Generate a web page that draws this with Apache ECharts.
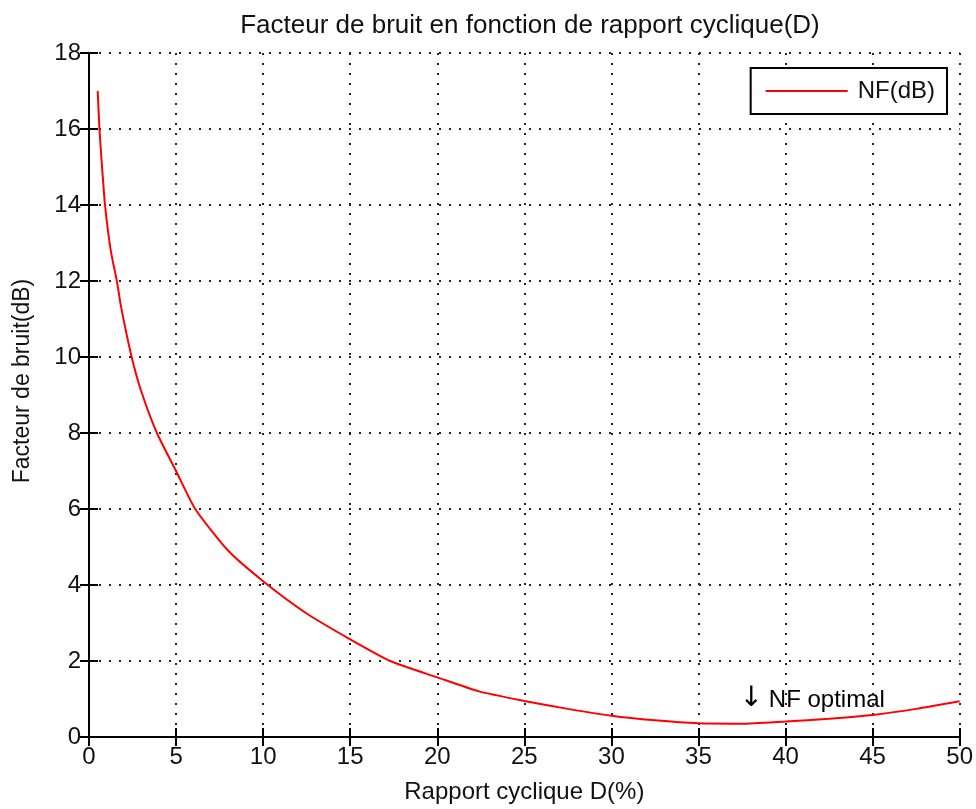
<!DOCTYPE html>
<html>
<head>
<meta charset="utf-8">
<script src="https://cdn.jsdelivr.net/npm/echarts@6/dist/echarts.min.js"></script>
<style>
  html, body { margin: 0; padding: 0; background: #fff; }
  #main { width: 976px; height: 809px; }
</style>
</head>
<body>
<div id="main"></div>
<script>
// rapport cyclique D(%) et facteur de bruit NF(dB)
var dutyCycle = [0.5, 0.6, 0.75, 0.92, 1.25, 1.6, 1.85, 2.45, 3.0, 3.9, 5, 6.1, 8, 10, 12.5, 15, 17.3, 20, 22.4, 25, 27.5, 30, 32.5, 35, 37.5, 40, 42.5, 45, 47.5, 50];
var noiseFigure = [17.0, 16.0, 15.0, 14.0, 12.8, 12.0, 11.3, 10.0, 9.1, 8.0, 7.0, 6.0, 4.9, 4.1, 3.25, 2.57, 2.0, 1.57, 1.2, 0.95, 0.74, 0.56, 0.44, 0.36, 0.35, 0.41, 0.48, 0.58, 0.74, 0.94];
// texte "NF optimal" (position en données)
var optimalLabelPos = [37.35, 0.97];

var FONT = 'Liberation Sans';
var chart = echarts.init(document.getElementById('main'));

var points = [];
for (var i = 0; i < dutyCycle.length; i++) {
	points.push([dutyCycle[i], noiseFigure[i]]);
}

var axisLine = { show: true, lineStyle: { color: '#000', width: 2 } };
var axisTick = { show: true, inside: true, length: 9, lineStyle: { color: '#000', width: 2 } };
var gridLine = { show: true, lineStyle: { color: '#222', width: 2, type: [2, 8] } };

var option = {
	backgroundColor: '#fff',
	animation: false,
	title: {
		text: 'Facteur de bruit en fonction de rapport cyclique(D)',
		left: 525,
		textAlign: 'center',
		top: 8,
		textStyle: { fontFamily: FONT, fontSize: 26, fontWeight: 'normal', color: '#111' }
	},
	legend: {
		data: ['NF(dB)'],
		right: 29,
		top: 68,
		orient: 'vertical',
		padding: [10, 12, 10, 15],
		icon: 'rect',
		itemWidth: 82,
		itemHeight: 2,
		borderColor: '#000',
		borderWidth: 2,
		borderRadius: 0,
		backgroundColor: '#fff',
		textStyle: { fontFamily: FONT, fontSize: 24, lineHeight: 26, color: '#111', padding: [0, 0, 0, 5] }
	},
	grid: { left: 89, right: 15, top: 53, bottom: 71, containLabel: false },
	xAxis: [{
		type: 'value',
		min: 0, max: 50, interval: 5,
		position: 'bottom',
		name: 'Rapport cyclique D(%)',
		nameLocation: 'middle',
		nameGap: 43,
		nameTextStyle: { fontFamily: FONT, fontSize: 24, color: '#111' },
		axisLine: axisLine,
		axisTick: axisTick,
		axisLabel: { fontFamily: FONT, fontSize: 24, color: '#111', margin: 8 },
		splitLine: gridLine
	}, {
		type: 'value',
		min: 0, max: 50, interval: 5,
		position: 'top',
		axisLine: axisLine,
		axisTick: axisTick,
		axisLabel: { show: false },
		splitLine: { show: false }
	}],
	yAxis: [{
		type: 'value',
		min: 0, max: 18, interval: 2,
		position: 'left',
		name: 'Facteur de bruit(dB)',
		nameLocation: 'middle',
		nameGap: 55,
		nameTextStyle: { fontFamily: FONT, fontSize: 23, color: '#111', padding: [0, 0, 0, 28] },
		axisLine: axisLine,
		axisTick: axisTick,
		axisLabel: { fontFamily: FONT, fontSize: 24, color: '#111', margin: 8 },
		splitLine: gridLine
	}, {
		type: 'value',
		min: 0, max: 18, interval: 2,
		position: 'right',
		axisLine: axisLine,
		axisTick: axisTick,
		axisLabel: { show: false },
		splitLine: { show: false }
	}],
	series: [{
		name: 'NF(dB)',
		type: 'line',
		data: points,
		symbol: 'none',
		smooth: 0.2,
		lineStyle: { color: '#ff0000', width: 2 },
		itemStyle: { color: '#ff0000' }
	}, {
		name: 'annotation',
		type: 'scatter',
		data: [optimalLabelPos],
		symbolSize: 0,
		silent: true,
		itemStyle: { opacity: 1 },
		label: {
			show: true,
			position: 'right',
			distance: 0,
			formatter: '{a|\u2193}{t|NF optimal}',
			rich: {
				a: { fontFamily: 'DejaVu Sans', fontSize: 28, color: '#000', padding: [0, 6, 2, 0] },
				t: { fontFamily: FONT, fontSize: 24, color: '#000' }
			}
		}
	}]
};

chart.setOption(option);
</script>
</body>
</html>
